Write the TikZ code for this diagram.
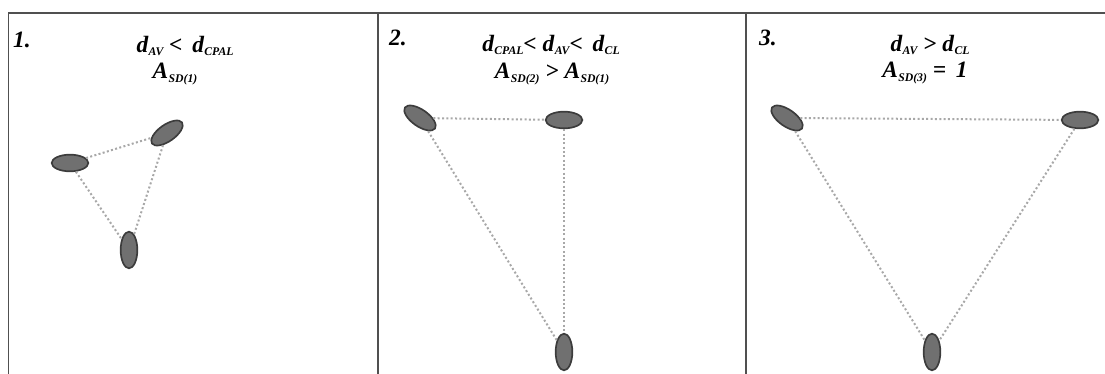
\documentclass[tikz,border=0pt]{standalone}
\usepackage{fontspec}
\setmainfont{Liberation Serif}
\usetikzlibrary{shapes.geometric}
\definecolor{CellGray}{HTML}{707070}
\definecolor{CellEdge}{HTML}{3C3C3C}
\definecolor{LinkGray}{HTML}{A8A8A8}
\definecolor{FrameGray}{HTML}{505050}
\newcommand{\lo}[1]{\kern0.3pt\lower3pt\hbox{\fontsize{10}{11}\selectfont #1}}

\begin{document}
\begin{tikzpicture}[x=0.03cm, y=-0.03cm,
  cell/.style={ellipse, draw=CellEdge, line width=0.5mm, fill=CellGray,
     minimum width=11mm, minimum height=5mm, inner sep=0pt},
  link/.style={draw=LinkGray, line width=0.6mm, dotted},
  lbl/.style={font=\fontsize{20}{23}\selectfont\bfseries\itshape, inner sep=0pt},
  frame/.style={draw=FrameGray, line width=0.45mm}]
  \useasboundingbox (0,0) rectangle (1105,374);
  % frame and panel dividers
  \draw[frame] (8.5,374) -- (8.5,13) -- (1105,13);
  \draw[frame] (378,13) -- (378,374);
  \draw[frame] (746,13) -- (746,374);
  % panel 1
  \node[lbl] (n1) at (22,40) {1.};
  \node[lbl] (r1a) at (185,46) {d\lo{AV} <\, d\lo{CPAL}};
  \node[lbl] (r1b) at (175,74) {A\lo{SD(1)}};
  \node[cell] (a1) at (70,163) {};
  \node[cell, rotate=35] (b1) at (167,133) {};
  \node[cell, rotate=90] (c1) at (129,250) {};
  \draw[link] (a1) -- (b1); \draw[link] (a1) -- (c1); \draw[link] (b1) -- (c1);
  % panel 2
  \node[lbl] (n2) at (398,38) {2.};
  \node[lbl] (r2a) at (551,45) {d\lo{CPAL}< d\lo{AV}<\, d\lo{CL}};
  \node[lbl] (r2b) at (552,74) {A\lo{SD(2)} > A\lo{SD(1)}};
  \node[cell, rotate=-35] (a2) at (420,118) {};
  \node[cell] (b2) at (564,120) {};
  \node[cell, rotate=90] (c2) at (564,352) {};
  \draw[link] (a2) -- (b2); \draw[link] (a2) -- (c2); \draw[link] (b2) -- (c2);
  % panel 3
  \node[lbl] (n3) at (768,38) {3.};
  \node[lbl] (r3a) at (930,45) {d\lo{AV} > d\lo{CL}};
  \node[lbl] (r3b) at (925,73) {A\lo{SD(3)} = \,1};
  \node[cell, rotate=-35] (a3) at (787,118) {};
  \node[cell] (b3) at (1080,120) {};
  \node[cell, rotate=90] (c3) at (932,352) {};
  \draw[link] (a3) -- (b3); \draw[link] (a3) -- (c3); \draw[link] (b3) -- (c3);
\end{tikzpicture}
\end{document}
